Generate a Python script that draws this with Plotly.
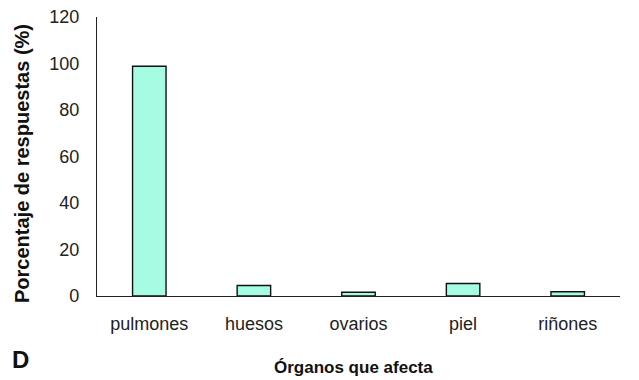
import plotly.graph_objects as go

categories = ["pulmones", "huesos", "ovarios", "piel", "riñones"]
values = [98.8, 4.5, 1.6, 5.4, 1.8]
y_ticks = [0, 20, 40, 60, 80, 100, 120]

# page body has an 8px margin; the figure is sized/positioned to compensate
W, H = 631, 372
L, R, T, B = 89, 19, 9, 84
pw, ph = W - L - R, H - T - B

def px_to_paper(px, py):
    # px, py in page pixels
    fx, fy = px - 8, py - 8
    return (fx - L) / pw, (H - B - fy) / ph

fig = go.Figure()
fig.add_trace(go.Bar(
    x=categories, y=values,
    marker=dict(color="#A6FCE3", line=dict(color="#111111", width=1.4)),
    width=0.32,
))

font_family = "Liberation Sans, Arial, sans-serif"
fig.update_layout(
    width=W, height=H,
    margin=dict(l=L, r=R, t=T, b=B, autoexpand=False),
    plot_bgcolor="white", paper_bgcolor="white",
    showlegend=False,
    font=dict(family=font_family, size=18, color="#222222"),
    xaxis=dict(
        showline=True, linecolor="#222222", linewidth=1.2,
        ticks="", showgrid=False, ticklabelstandoff=11,
        tickfont=dict(size=18), automargin=False,
    ),
    yaxis=dict(
        range=[0, 120], tickvals=y_ticks,
        showline=True, linecolor="#222222", linewidth=1.2,
        ticks="", showgrid=False, zeroline=False, ticklabelstandoff=13,
        tickfont=dict(size=18), automargin=False, ticklabeloverflow="allow",
    ),
)
yx, yy = px_to_paper(22, 164)
fig.add_annotation(text="<b>Porcentaje de respuestas (%)</b>", xref="paper", yref="paper",
                   x=yx, y=yy, showarrow=False, textangle=-90,
                   font=dict(size=20, color="#111111"), xanchor="center", yanchor="middle")
tx, ty = px_to_paper(353.5, 367)
fig.add_annotation(text="<b>Órganos que afecta</b>", xref="paper", yref="paper",
                   x=tx, y=ty, showarrow=False,
                   font=dict(size=17, color="#111111"), xanchor="center", yanchor="middle")
dx, dy = px_to_paper(21, 359)
fig.add_annotation(text="<b>D</b>", xref="paper", yref="paper",
                   x=dx, y=dy, showarrow=False,
                   font=dict(size=24, color="#111111"), xanchor="center", yanchor="middle")

fig.write_html("out.html")
